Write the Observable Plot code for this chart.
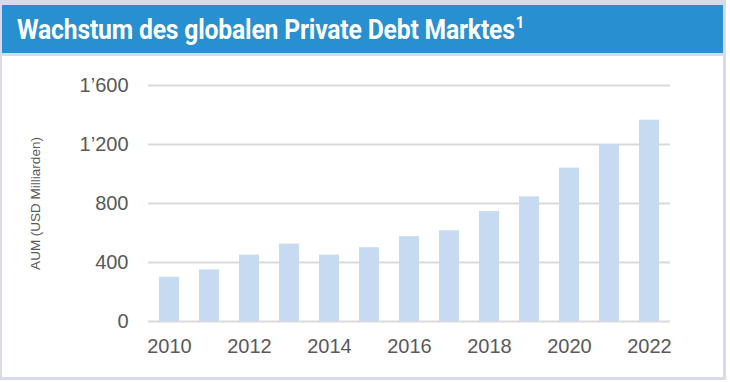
<!DOCTYPE html>
<html>
<head>
<meta charset="utf-8">
<script src="https://cdn.jsdelivr.net/npm/d3@7"></script>
<script src="https://cdn.jsdelivr.net/npm/@observablehq/plot@0.6"></script>
<style>
  html, body { margin: 0; padding: 0; background: #ffffff; }
  #frame { position: absolute; left: 0; top: 0; width: 726px; height: 380px; background: #d8d9ea; }
  #titlebar { position: absolute; left: 2px; top: 5px; width: 721px; height: 48px; background: #288fd0; overflow: hidden; }
  #title { position: absolute; left: 15px; top: 9px; white-space: nowrap; color: #ffffff; font-family: Roboto, "Liberation Sans", sans-serif; font-weight: 700; font-size: 27px; transform-origin: 0 0; transform: scaleX(0.915); letter-spacing: -0.2px; }
  #title sup { font-size: 16px; vertical-align: 0; position: relative; top: -11px; margin-left: 1px; }
  #panel { position: absolute; left: 2px; top: 56px; width: 721px; height: 321px; background: #ffffff; }
  #chart { position: absolute; left: 0; top: 0; }
</style>
</head>
<body>
<div id="frame">
  <div id="titlebar"><div id="title">Wachstum des globalen Private Debt Marktes<sup>1</sup></div></div>
  <div id="panel"><div id="chart"></div></div>
</div>
<script>
const years = [2010, 2011, 2012, 2013, 2014, 2015, 2016, 2017, 2018, 2019, 2020, 2021, 2022];
const aum = [300, 350, 450, 525, 450, 500, 575, 615, 745, 845, 1040, 1200, 1365];
const yTicks = [0, 400, 800, 1200, 1600];
const xTickYears = [2010, 2012, 2014, 2016, 2018, 2020, 2022];
const yLabel = "AUM (USD Milliarden)";

const data = years.map((year, i) => ({ year, value: aum[i] }));
const fmt = v => {
  const s = String(v);
  return s.length > 3 ? s.slice(0, s.length - 3) + "\u2019" + s.slice(-3) : s;
};

const chart = Plot.plot({
  width: 721,
  height: 321,
  marginLeft: 146,
  marginRight: 53,
  marginTop: 29,
  marginBottom: 56,
  style: { fontFamily: "'Liberation Sans', Arial, sans-serif", background: "transparent", overflow: "visible" },
  x: { type: "band", domain: years, paddingInner: 0.5, paddingOuter: 0.25, align: 0.5 },
  y: { domain: [0, 1600] },
  marks: [
    Plot.ruleY(yTicks, { stroke: "#d9d9d9", strokeWidth: 2 }),
    Plot.barY(data, { x: "year", y: "value", fill: "#c6daf1" }),
    Plot.axisX({ ticks: xTickYears, tickFormat: d => String(d), tickSize: 0, tickPadding: 17, fontSize: 20, color: "#595959", label: null }),
    Plot.axisY({ ticks: yTicks, tickFormat: fmt, tickSize: 0, tickPadding: 20, fontSize: 20, color: "#595959",
                 label: yLabel, labelAnchor: "center", labelArrow: "none", labelOffset: 118 }),
  ]
});
document.getElementById("chart").appendChild(chart);
chart.querySelectorAll("text").forEach(t => {
  if (t.textContent === yLabel) { t.setAttribute("font-size", "13.5"); t.style.fontSize = "13.5px"; }
});
</script>
</body>
</html>
